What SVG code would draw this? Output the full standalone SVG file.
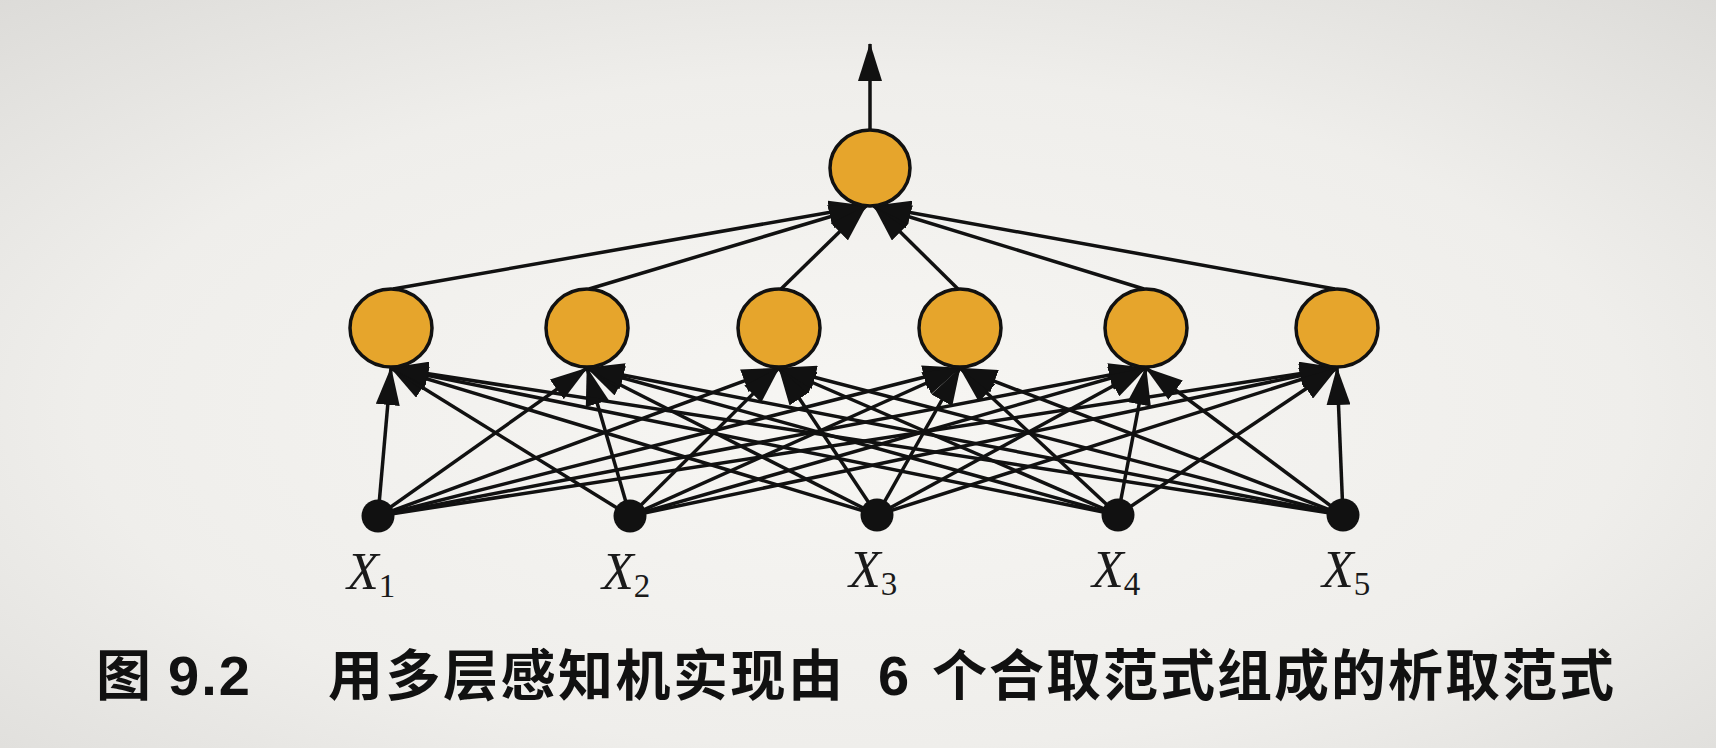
<svg xmlns="http://www.w3.org/2000/svg" width="1716" height="748" viewBox="0 0 1716 748">
<style>
.hid{fill:#e6a52c;stroke:#111;stroke-width:3.5}
.inp{fill:#111}
.e{stroke:#111;stroke-width:3.5;fill:none;marker-end:url(#ah)}
.lab{font-family:"Liberation Serif","DejaVu Serif",serif;fill:#1a1a1a}
.x{font-style:italic;font-size:52px}
.sub{font-size:33px}
.cap{font-family:"Noto Sans CJK SC","Noto Sans",sans-serif;font-weight:bold;font-size:55px;fill:#111}
.num{font-family:"Liberation Sans","Noto Sans",sans-serif;font-weight:bold;font-size:56px;fill:#111}
</style>
<defs>
<radialGradient id="bg" cx="0.5" cy="0.55" r="0.75">
<stop offset="0" stop-color="#f7f6f3"/>
<stop offset="0.6" stop-color="#efeeeb"/>
<stop offset="1" stop-color="#dcdbd8"/>
</radialGradient>
<marker id="ah" markerWidth="38" markerHeight="24" refX="37" refY="12" orient="auto" markerUnits="userSpaceOnUse">
<path d="M0,0 L38,12 L0,24 z" fill="#111"/>
</marker>
</defs>
<rect width="1716" height="748" fill="url(#bg)"/>

<g id="connectors">
<line class="e" x1="870" y1="129" x2="870" y2="44"/>
<line class="e" x1="393" y1="289" x2="866" y2="206"/>
<line class="e" x1="589" y1="289" x2="866" y2="206"/>
<line class="e" x1="781" y1="289" x2="866" y2="206"/>
<line class="e" x1="958" y1="289" x2="874" y2="206"/>
<line class="e" x1="1144" y1="289" x2="874" y2="206"/>
<line class="e" x1="1335" y1="289" x2="874" y2="206"/>
<line class="e" x1="378" y1="516" x2="391" y2="368"/>
<line class="e" x1="378" y1="516" x2="587" y2="368"/>
<line class="e" x1="378" y1="516" x2="779" y2="368"/>
<line class="e" x1="378" y1="516" x2="960" y2="368"/>
<line class="e" x1="378" y1="516" x2="1146" y2="368"/>
<line class="e" x1="378" y1="516" x2="1337" y2="368"/>
<line class="e" x1="630" y1="516" x2="391" y2="368"/>
<line class="e" x1="630" y1="516" x2="587" y2="368"/>
<line class="e" x1="630" y1="516" x2="779" y2="368"/>
<line class="e" x1="630" y1="516" x2="960" y2="368"/>
<line class="e" x1="630" y1="516" x2="1146" y2="368"/>
<line class="e" x1="630" y1="516" x2="1337" y2="368"/>
<line class="e" x1="877" y1="515" x2="391" y2="368"/>
<line class="e" x1="877" y1="515" x2="587" y2="368"/>
<line class="e" x1="877" y1="515" x2="779" y2="368"/>
<line class="e" x1="877" y1="515" x2="960" y2="368"/>
<line class="e" x1="877" y1="515" x2="1146" y2="368"/>
<line class="e" x1="877" y1="515" x2="1337" y2="368"/>
<line class="e" x1="1118" y1="515" x2="391" y2="368"/>
<line class="e" x1="1118" y1="515" x2="587" y2="368"/>
<line class="e" x1="1118" y1="515" x2="779" y2="368"/>
<line class="e" x1="1118" y1="515" x2="960" y2="368"/>
<line class="e" x1="1118" y1="515" x2="1146" y2="368"/>
<line class="e" x1="1118" y1="515" x2="1337" y2="368"/>
<line class="e" x1="1343" y1="515" x2="391" y2="368"/>
<line class="e" x1="1343" y1="515" x2="587" y2="368"/>
<line class="e" x1="1343" y1="515" x2="779" y2="368"/>
<line class="e" x1="1343" y1="515" x2="960" y2="368"/>
<line class="e" x1="1343" y1="515" x2="1146" y2="368"/>
<line class="e" x1="1343" y1="515" x2="1337" y2="368"/>
</g>

<g id="out"><ellipse class="hid" cx="870" cy="168" rx="40" ry="38"/></g>
<g id="h1"><ellipse class="hid" cx="391" cy="328" rx="41" ry="39"/></g>
<g id="h2"><ellipse class="hid" cx="587" cy="328" rx="41" ry="39"/></g>
<g id="h3"><ellipse class="hid" cx="779" cy="328" rx="41" ry="39"/></g>
<g id="h4"><ellipse class="hid" cx="960" cy="328" rx="41" ry="39"/></g>
<g id="h5"><ellipse class="hid" cx="1146" cy="328" rx="41" ry="39"/></g>
<g id="h6"><ellipse class="hid" cx="1337" cy="328" rx="41" ry="39"/></g>

<g id="x1"><circle class="inp" cx="378" cy="516" r="16.5"/><text class="lab" x="347" y="589"><tspan class="x">X</tspan><tspan class="sub" dy="8">1</tspan></text></g>
<g id="x2"><circle class="inp" cx="630" cy="516" r="16.5"/><text class="lab" x="602" y="589"><tspan class="x">X</tspan><tspan class="sub" dy="8">2</tspan></text></g>
<g id="x3"><circle class="inp" cx="877" cy="515" r="16.5"/><text class="lab" x="849" y="587"><tspan class="x">X</tspan><tspan class="sub" dy="8">3</tspan></text></g>
<g id="x4"><circle class="inp" cx="1118" cy="515" r="16.5"/><text class="lab" x="1092" y="587"><tspan class="x">X</tspan><tspan class="sub" dy="8">4</tspan></text></g>
<g id="x5"><circle class="inp" cx="1343" cy="515" r="16.5"/><text class="lab" x="1322" y="587"><tspan class="x">X</tspan><tspan class="sub" dy="8">5</tspan></text></g>

<g id="caption">
<text class="cap" x="96" y="695">图</text>
<text class="num" x="168" y="695" letter-spacing="2">9.2</text>
<text class="cap" x="328" y="695" letter-spacing="2.5">用多层感知机实现由</text>
<text class="num" x="878" y="695">6</text>
<text class="cap" x="932" y="695" letter-spacing="2">个合取范式组成的析取范式</text>
</g>
</svg>
